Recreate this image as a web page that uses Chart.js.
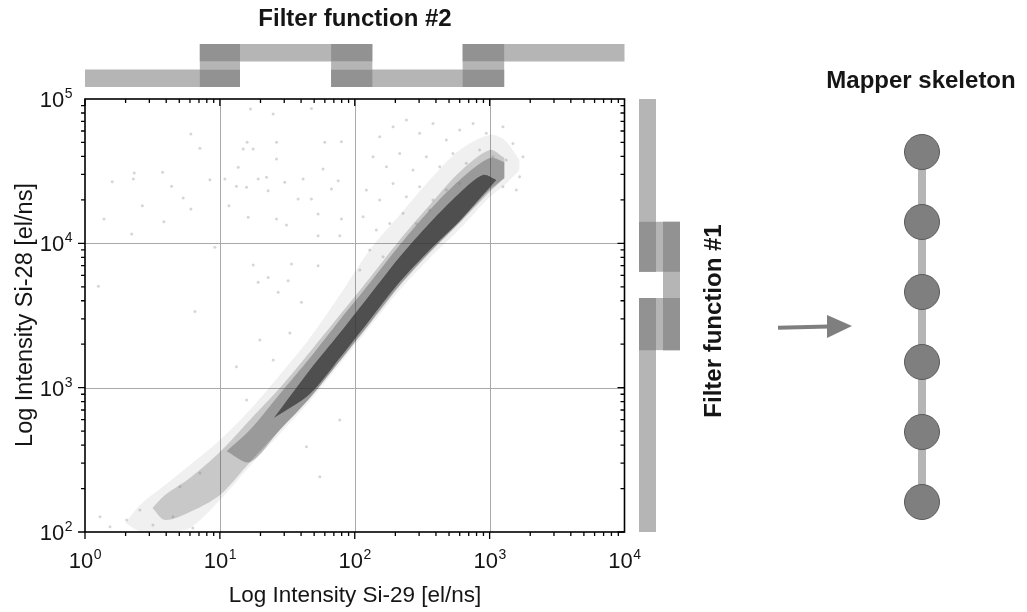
<!DOCTYPE html>
<html>
<head>
<meta charset="utf-8">
<script src="https://cdn.jsdelivr.net/npm/chart.js@4.4.1/dist/chart.umd.min.js"></script>
<style>
  html, body { margin: 0; padding: 0; background: #fff; }
  #wrap { position: relative; width: 1027px; height: 612px; overflow: hidden;
          font-family: 'Liberation Sans', Arial, sans-serif; color: #151515; }
  #wrap canvas { position: absolute; left: 0; top: 0; }
  .lbl { position: absolute; white-space: nowrap; transform: translate(-50%, -50%); }
  .bold { font-weight: bold; font-size: 24px; }
  .axis { font-size: 22.5px; }
  .rot { transform: translate(-50%, -50%) rotate(-90deg); }
</style>
</head>
<body>
<div id="wrap">
  <canvas id="main" width="1027" height="612"></canvas>
  <canvas id="filterTop" width="1027" height="612"></canvas>
  <canvas id="filterRight" width="1027" height="612"></canvas>
  <canvas id="mapper" width="1027" height="612"></canvas>
  <svg width="1027" height="612" style="position:absolute;left:0;top:0">
    <line x1="778" y1="327.8" x2="829" y2="326.5" stroke="#7f7f7f" stroke-width="4"/>
    <polygon points="827,315 852,326 827,338" fill="#7f7f7f"/>
  </svg>
  <div class="lbl bold" style="left:355px;top:18px">Filter function #2</div>
  <div class="lbl bold" style="left:921px;top:80px">Mapper skeleton</div>
  <div class="lbl bold rot" style="left:713px;top:321px">Filter function #1</div>
  <div class="lbl axis" style="left:355px;top:595px">Log Intensity Si-29 [el/ns]</div>
  <div class="lbl axis rot" style="left:24px;top:315px;font-size:23.5px">Log Intensity Si-28 [el/ns]</div>
</div>
<script>
// ===== DATA (log10 of intensity) =====
const xDecades = [0, 1, 2, 3, 4];
const yDecades = [2, 3, 4, 5];

// sparse outer halo of the point cloud
const haloX  = [0.30, 0.407, 0.593, 0.778, 1.0, 1.222, 1.444, 1.667, 1.889, 2.111, 2.333, 2.556, 2.778, 3.0, 3.111, 3.222];
const haloHi = [2.062, 2.187, 2.325, 2.464, 2.637, 2.845, 3.087, 3.344, 3.642, 3.954, 4.196, 4.439, 4.647, 4.751, 4.716, 4.577];
const haloLo = [2.062, 2.006, 2.0, 2.027, 2.221, 2.457, 2.679, 2.907, 3.164, 3.420, 3.676, 3.898, 4.099, 4.321, 4.404, 4.508];

// medium density band
const medX  = [0.50, 0.593, 0.778, 1.0, 1.222, 1.444, 1.667, 1.889, 2.111, 2.333, 2.556, 2.778, 3.0, 3.111];
const medHi = [2.166, 2.256, 2.374, 2.554, 2.776, 2.997, 3.247, 3.503, 3.760, 4.023, 4.265, 4.494, 4.647, 4.591];
const medLo = [2.166, 2.083, 2.138, 2.256, 2.484, 2.706, 2.928, 3.184, 3.441, 3.704, 3.933, 4.141, 4.356, 4.453];

// dense band
const denseX  = [1.05, 1.222, 1.444, 1.667, 1.889, 2.111, 2.333, 2.556, 2.778, 3.0, 3.111];
const denseHi = [2.560, 2.706, 2.956, 3.205, 3.469, 3.725, 3.988, 4.231, 4.439, 4.591, 4.563];
const denseLo = [2.560, 2.484, 2.706, 2.928, 3.184, 3.448, 3.711, 3.940, 4.148, 4.369, 4.453];

// darkest core
const coreX  = [1.40, 1.667, 1.889, 2.111, 2.333, 2.556, 2.778, 2.95, 3.05];
const coreHi = [2.789, 3.122, 3.378, 3.642, 3.905, 4.141, 4.349, 4.473, 4.439];
const coreLo = [2.789, 2.956, 3.205, 3.469, 3.732, 3.954, 4.155, 4.335, 4.439];

// isolated points [log x, log y]
const strayPts = [
  [1.227,4.931],[1.395,4.896],[1.679,4.935],[0.785,4.758],[0.852,4.658],[1.202,4.700],[1.173,4.654],
  [1.247,4.654],[1.420,4.700],[1.778,4.700],[1.901,4.704],[0.365,4.487],[0.575,4.492],[0.358,4.446],
  [0.202,4.427],[0.642,4.395],[0.926,4.441],[1.037,4.446],[1.136,4.527],[1.123,4.395],[1.198,4.388],
  [1.284,4.446],[1.346,4.457],[1.358,4.365],[1.420,4.584],[1.481,4.423],[1.580,4.307],[1.617,4.446],
  [1.679,4.307],[1.765,4.515],[1.827,4.376],[1.877,4.434],[0.728,4.314],[0.425,4.261],[0.785,4.238],
  [1.067,4.261],[0.141,4.169],[0.585,4.150],[0.346,4.065],[1.210,4.180],[1.420,4.169],[1.494,4.127],
  [1.728,4.203],[1.901,4.169],[1.728,4.053],[1.889,4.053],[0.963,3.972],[1.247,3.850],[1.358,3.764],
  [1.531,3.857],[0.099,3.702],[0.815,3.527],[1.284,3.730],[1.728,3.845],[1.506,3.741],[1.432,3.661],
  [1.605,3.591],
  [2.185,4.739],[2.284,4.808],[2.383,4.854],[2.481,4.762],[2.580,4.831],[2.679,4.716],[2.778,4.785],
  [2.877,4.831],[2.975,4.762],[3.099,4.808],[3.173,4.692],[2.136,4.600],[2.235,4.531],[2.333,4.623],
  [2.432,4.508],[2.531,4.600],[2.630,4.531],[2.728,4.623],[2.827,4.554],[2.926,4.646],[3.025,4.600],
  [3.123,4.577],[2.086,4.369],[2.185,4.300],[2.284,4.415],[2.383,4.323],[2.481,4.392],[2.580,4.300],
  [2.679,4.369],[2.778,4.415],[2.062,4.185],[2.160,4.092],[2.259,4.138],[2.358,4.208],[2.457,4.138],
  [2.556,4.231],[2.111,3.954],[2.210,3.907],[2.037,3.815],[3.222,4.462],[3.247,4.600],[3.198,4.369],
  [3.099,4.392],
  [0.111,2.105],[0.185,2.036],[0.309,2.083],[0.407,2.152],[0.504,2.048],[0.652,2.105],[0.800,2.027],
  [0.704,2.313],[0.852,2.408],[1.123,3.145],[1.395,3.191],[1.296,3.330],[1.519,3.378],[1.198,2.914],
  [1.642,2.591],[1.741,2.383],[1.889,2.776]
];

// filter function #2 (Si-29 cover intervals) and #1 (Si-28 cover intervals)
const filter2Intervals = [[1, 14.1], [7.1, 135], [66.8, 1282], [631, 10000]];
const filter2Rows = [0, 1, 0, 1];
const filter1Intervals = [[100, 4180], [1820, 14100], [6350, 100000]];
const filter1Rows = [0, 1, 0];

// mapper skeleton nodes (top to bottom)
const mapperNodes = [1, 2, 3, 4, 5, 6];

// ===== HELPERS =====
const pow10 = v => Math.pow(10, v);
const band = (xs, ys) => xs.map((lx, i) => ({ x: pow10(lx), y: pow10(ys[i]) }));
const FONT = "'Liberation Sans', Arial, sans-serif";

Chart.defaults.animation = false;
Chart.defaults.events = [];
Chart.defaults.plugins.legend.display = false;
Chart.defaults.plugins.tooltip.enabled = false;

function edge(data, color) {
  return { data, borderWidth: 0, pointRadius: 0, tension: 0.3, fill: color ? '-1' : false,
           backgroundColor: color || 'transparent', clip: false };
}

// ===== AXIS FRAME / TICKS / LABELS =====
function drawPow(ctx, exp, x, y, mode) {
  ctx.font = '22px ' + FONT;
  const w10 = ctx.measureText('10').width;
  ctx.font = '14px ' + FONT;
  const wE = ctx.measureText(String(exp)).width;
  const left = mode === 'center' ? x - (w10 + wE) / 2 : x - (w10 + wE);
  ctx.font = '22px ' + FONT;
  ctx.fillText('10', left, y);
  ctx.font = '14px ' + FONT;
  ctx.fillText(String(exp), left + w10 + 0.5, y - 9);
}

const logFrame = {
  id: 'logFrame',
  beforeDatasetsDraw(chart) {
    const { ctx, chartArea: a, scales: { x, y } } = chart;
    ctx.save();
    ctx.strokeStyle = '#a9a9a9';
    ctx.lineWidth = 1;
    ctx.beginPath();
    xDecades.slice(1, -1).forEach(d => {
      const px = Math.round(x.getPixelForValue(pow10(d))) + 0.5;
      ctx.moveTo(px, a.top); ctx.lineTo(px, a.bottom);
    });
    yDecades.slice(1, -1).forEach(d => {
      const py = Math.round(y.getPixelForValue(pow10(d))) + 0.5;
      ctx.moveTo(a.left, py); ctx.lineTo(a.right, py);
    });
    ctx.stroke();
    ctx.restore();
  },
  afterDatasetsDraw(chart) {
    const { ctx, chartArea: a, scales: { x, y } } = chart;
    ctx.save();
    ctx.strokeStyle = '#000';
    ctx.lineWidth = 1.6;
    ctx.strokeRect(a.left, a.top, a.right - a.left, a.bottom - a.top);
    ctx.lineWidth = 1.3;
    ctx.beginPath();
    for (let d = xDecades[0]; d < xDecades[xDecades.length - 1]; d++) {
      for (let k = 1; k <= 9; k++) {
        const px = x.getPixelForValue(k * pow10(d));
        const len = k === 1 ? 7 : 4;
        ctx.moveTo(px, a.bottom); ctx.lineTo(px, a.bottom + len);
        ctx.moveTo(px, a.top); ctx.lineTo(px, a.top + len);
      }
    }
    for (let d = yDecades[0]; d < yDecades[yDecades.length - 1]; d++) {
      for (let k = 1; k <= 9; k++) {
        const py = y.getPixelForValue(k * pow10(d));
        const len = k === 1 ? 7 : 4;
        ctx.moveTo(a.left, py); ctx.lineTo(a.left - len, py);
        ctx.moveTo(a.right, py); ctx.lineTo(a.right - len, py);
      }
    }
    ctx.stroke();
    ctx.fillStyle = '#151515';
    ctx.textBaseline = 'alphabetic';
    ctx.textAlign = 'left';
    xDecades.forEach(d => drawPow(ctx, d, x.getPixelForValue(pow10(d)), a.bottom + 36, 'center'));
    yDecades.forEach(d => drawPow(ctx, d, a.left - 13, y.getPixelForValue(pow10(d)) + 8, 'right'));
    ctx.restore();
  }
};

// ===== MAIN SCATTER =====
new Chart(document.getElementById('main'), {
  type: 'line',
  data: {
    datasets: [
      { type: 'scatter', data: strayPts.map(p => ({ x: pow10(p[0]), y: pow10(p[1]) })),
        pointRadius: 1.5, pointBorderWidth: 0, backgroundColor: 'rgba(120,120,120,0.3)', clip: false },
      edge(band(coreX, coreLo)),
      edge(band(coreX, coreHi), 'rgba(50,50,50,0.72)'),
      edge(band(denseX, denseLo)),
      edge(band(denseX, denseHi), 'rgba(60,60,60,0.33)'),
      edge(band(medX, medLo)),
      edge(band(medX, medHi), 'rgba(60,60,60,0.22)'),
      edge(band(haloX, haloLo)),
      edge(band(haloX, haloHi), 'rgba(60,60,60,0.08)')
    ]
  },
  options: {
    responsive: false,
    layout: { padding: { left: 85, right: 402.5, top: 99, bottom: 80 } },
    scales: {
      x: { type: 'logarithmic', min: 1, max: 10000,
           grid: { display: false, drawTicks: false }, border: { display: false }, ticks: { display: false } },
      y: { type: 'logarithmic', min: 100, max: 100000,
           grid: { display: false, drawTicks: false }, border: { display: false }, ticks: { display: false } }
    }
  },
  plugins: [logFrame]
});

// ===== FILTER FUNCTIONS =====
const LIGHT = '#b5b5b5', DARK = '#929292';

function filterSets(intervals, rows, horizontal, thick, gap) {
  const pt = (v, r) => horizontal ? { x: v, y: r } : { x: r, y: v };
  const seg = (a, b, r, color, w) => ({ data: [pt(a, r), pt(b, r)], borderColor: color, borderWidth: w,
    borderCapStyle: 'butt', pointRadius: 0, clip: false });
  const sets = [];
  intervals.forEach((iv, i) => {
    const nxt = intervals[i + 1];
    if (!nxt) return;
    const lo = nxt[0], hi = iv[1];
    sets.push(seg(lo, hi, rows[i], DARK, thick));
    sets.push(seg(lo, hi, rows[i + 1], DARK, thick));
    sets.push(seg(lo, hi, 0.5, LIGHT, gap));
  });
  intervals.forEach((iv, i) => sets.push(seg(iv[0], iv[1], rows[i], LIGHT, thick)));
  return sets;
}

new Chart(document.getElementById('filterTop'), {
  type: 'line',
  data: { datasets: filterSets(filter2Intervals, filter2Rows, true, 17.5, 8) },
  options: {
    responsive: false,
    layout: { padding: { left: 85, right: 402.5, top: 43.8, bottom: 524.8 } },
    scales: {
      x: { type: 'logarithmic', min: 1, max: 10000, display: false },
      y: { type: 'linear', min: -0.35, max: 1.35, display: false }
    }
  }
});

new Chart(document.getElementById('filterRight'), {
  type: 'line',
  data: { datasets: filterSets(filter1Intervals, filter1Rows, false, 17, 7) },
  options: {
    responsive: false,
    layout: { padding: { left: 639, right: 347, top: 99, bottom: 80 } },
    scales: {
      x: { type: 'linear', min: -0.354, max: 1.354, display: false },
      y: { type: 'logarithmic', min: 100, max: 100000, display: false }
    }
  }
});

// ===== MAPPER SKELETON =====
new Chart(document.getElementById('mapper'), {
  type: 'line',
  data: {
    datasets: [{
      data: mapperNodes.map(n => ({ x: 0, y: n })),
      borderColor: LIGHT, borderWidth: 8,
      pointRadius: 17.5, pointBackgroundColor: '#7f7f7f', pointBorderColor: '#5a5a5a', pointBorderWidth: 1,
      clip: false
    }]
  },
  options: {
    responsive: false,
    layout: { padding: { left: 882, right: 65, top: 117, bottom: 75 } },
    scales: {
      x: { type: 'linear', min: -1, max: 1, display: false },
      y: { type: 'linear', min: 0.5, max: 6.5, reverse: true, display: false }
    }
  }
});
</script>
</body>
</html>
